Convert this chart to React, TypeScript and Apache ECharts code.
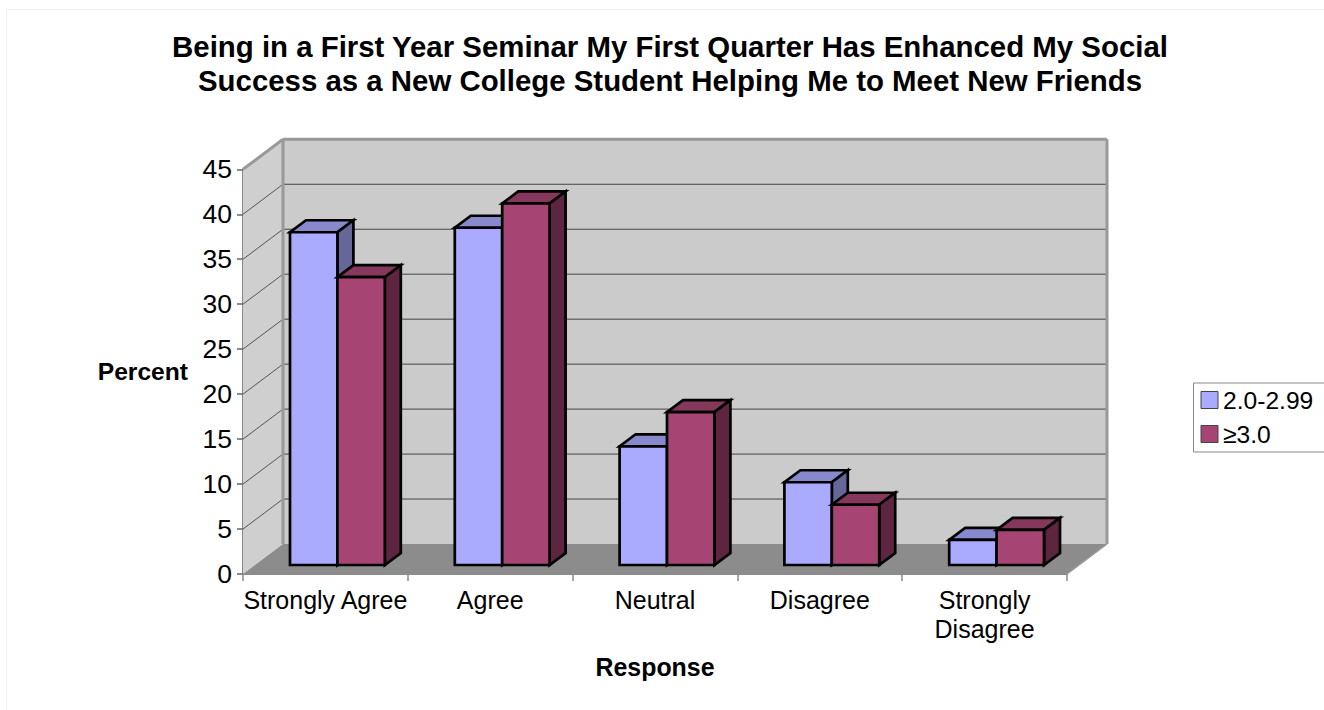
import React, { useEffect, useRef } from "react";
import * as echarts from "echarts";

const categories = ["Strongly Agree", "Agree", "Neutral", "Disagree", "Strongly\nDisagree"];
const seriesNames = ["2.0-2.99", "≥3.0"];
const lowGpa = [37.0, 37.5, 13.2, 9.2, 2.8];
const highGpa = [32.0, 40.2, 17.0, 6.7, 3.9];
const titleLines = "Being in a First Year Seminar My First Quarter Has Enhanced My Social\nSuccess as a New College Student Helping Me to Meet New Friends";
const yTicks = [0, 5, 10, 15, 20, 25, 30, 35, 40, 45];

const FONT = "Liberation Sans";
const DX = 40, DY = -30; // wall depth
const BAR_OFF_X = 12, BAR_OFF_Y = -9; // bar front plane offset
const BAR_DX = 16, BAR_DY = -12; // bar depth
const GAP_RATIO = 35 / 164.8;

const palette = [
  { front: "#AAAAFF", top: "#8888CC", side: "#666699" },
  { front: "#A64573", top: "#85375C", side: "#5E2541" },
];

function poly(points: number[][], fill: string, stroke: string | null, lineWidth = 0) {
  return {
    type: "polygon",
    shape: { points },
    style: { fill, stroke: stroke ?? "none", lineWidth, lineJoin: "miter" },
  };
}

function line(a: number[], b: number[], stroke: string, lineWidth: number) {
  return {
    type: "line",
    shape: { x1: a[0], y1: a[1], x2: b[0], y2: b[1] },
    style: { stroke, lineWidth },
  };
}

function renderWalls(_: any, api: any) {
  const band = api.size([1, 0])[0];
  const x0 = api.coord([0, 0])[0] - band / 2;
  const x1 = x0 + band * categories.length;
  const y0 = api.coord([0, 0])[1];
  const yTop = api.coord([0, 45])[1];
  const children: any[] = [
    poly([[x0, y0], [x0 + DX, y0 + DY], [x0 + DX, yTop + DY], [x0, yTop]], "#CFCFCF", null),
    poly([[x0 + DX, y0 + DY], [x1 + DX, y0 + DY], [x1 + DX, yTop + DY], [x0 + DX, yTop + DY]], "#CBCBCB", null),
    poly([[x0, y0], [x1, y0], [x1 + DX, y0 + DY], [x0 + DX, y0 + DY]], "#8C8C8C", null),
  ];
  yTicks.slice(1, -1).forEach((t) => {
    const y = api.coord([0, t])[1];
    children.push(line([x0, y], [x0 + DX, y + DY], "#555555", 1));
    children.push(line([x0 + DX, y + DY], [x1 + DX, y + DY], "#444444", 1));
  });
  children.push(line([x0 + DX, y0 + DY], [x0 + DX, yTop + DY], "#999999", 3));
  children.push(line([x1 + DX, y0 + DY], [x1 + DX, yTop + DY], "#999999", 3));
  children.push(line([x0 + DX, yTop + DY], [x1 + DX, yTop + DY], "#999999", 3));
  children.push(line([x0, yTop], [x0 + DX, yTop + DY], "#999999", 3));
  children.push(line([x1, y0], [x1 + DX, y0 + DY], "#999999", 1.5));
  return { type: "group", children };
}

function makeBarRender(seriesIndex: number) {
  return (_: any, api: any) => {
    const cat = api.value(0);
    const val = api.value(1);
    const band = api.size([1, 0])[0];
    const w = band * (1 - 2 * GAP_RATIO) / 2;
    const c = api.coord([cat, val]);
    const b = api.coord([cat, 0]);
    const left = c[0] - w + seriesIndex * w + BAR_OFF_X;
    const right = left + w;
    const top = c[1] + BAR_OFF_Y;
    const bottom = b[1] + BAR_OFF_Y;
    const col = palette[seriesIndex];
    const edge = "#000000";
    return {
      type: "group",
      children: [
        poly([[left, top], [right, top], [right + BAR_DX, top + BAR_DY], [left + BAR_DX, top + BAR_DY]], col.top, edge, 2.7),
        poly([[right, top], [right + BAR_DX, top + BAR_DY], [right + BAR_DX, bottom + BAR_DY], [right, bottom]], col.side, edge, 2.7),
        poly([[left, top], [right, top], [right, bottom], [left, bottom]], col.front, edge, 2.7),
      ],
    };
  };
}

export default function App() {
  const ref = useRef<HTMLDivElement>(null);
  useEffect(() => {
    document.body.style.margin = "0";
    const chart = echarts.init(ref.current!, undefined, { renderer: "svg" });
    chart.setOption({
      animation: false,
      backgroundColor: "#FFFFFF",
      graphic: [
        { type: "line", silent: true, shape: { x1: 6, y1: 9.5, x2: 1324, y2: 9.5 }, style: { stroke: "#F0F0F0", lineWidth: 1 } },
        { type: "line", silent: true, shape: { x1: 6.5, y1: 9, x2: 6.5, y2: 710 }, style: { stroke: "#F0F0F0", lineWidth: 1 } },
      ],
      title: {
        text: titleLines,
        left: 665,
        top: 24,
        textAlign: "center",
        textStyle: { fontFamily: FONT, fontSize: 29.4, fontWeight: "bold", color: "#000", lineHeight: 34 },
      },
      grid: { left: 243, top: 169.3, width: 824, height: 404.7 },
      xAxis: {
        type: "category",
        data: categories,
        name: "Response",
        nameLocation: "middle",
        nameGap: 80,
        nameTextStyle: { fontFamily: FONT, fontSize: 24.9, fontWeight: "bold", color: "#000" },
        axisLine: { lineStyle: { color: "#666666", width: 1.5 } },
        axisTick: { show: true, length: 7, lineStyle: { color: "#888888", width: 1.5 } },
        axisLabel: { interval: 0, fontFamily: FONT, fontSize: 25, color: "#000", margin: 11, lineHeight: 29 },
      },
      yAxis: {
        type: "value",
        min: 0,
        max: 45,
        interval: 5,
        name: "Percent",
        nameLocation: "middle",
        nameRotate: 0,
        nameGap: 55,
        nameTextStyle: { fontFamily: FONT, fontSize: 24.6, fontWeight: "bold", color: "#000", padding: [0, 0, 2, 0] },
        axisLine: { show: true, lineStyle: { color: "#888888", width: 2 } },
        axisTick: { show: true, length: 6, lineStyle: { color: "#666666", width: 1.5 } },
        axisLabel: { fontFamily: FONT, fontSize: 26.5, color: "#000", margin: 11, padding: [0, 0, 3, 0] },
        splitLine: { show: false },
      },
      legend: {
        orient: "vertical",
        left: 1193.5,
        top: 383,
        padding: [4.5, 60, 5.5, 7],
        itemWidth: 17,
        itemHeight: 17,
        itemGap: 9,
        borderColor: "#888888",
        borderWidth: 1,
        backgroundColor: "#FFFFFF",
        selectedMode: false,
        icon: "rect",
        textStyle: { fontFamily: FONT, fontSize: 24.6, color: "#000", padding: [0, 0, 0, 0] },
        data: seriesNames.map((name, i) => ({
          name,
          itemStyle: { color: palette[i].front, borderColor: "#444444", borderWidth: 1 },
        })),
      },
      series: [
        { type: "custom", name: "walls", silent: true, z: 1, clip: false, data: [[0, 0]], renderItem: renderWalls },
        {
          type: "custom",
          name: seriesNames[0],
          z: 2,
          clip: false,
          itemStyle: { color: palette[0].front },
          data: lowGpa.map((v, i) => [i, v]),
          renderItem: makeBarRender(0),
        },
        {
          type: "custom",
          name: seriesNames[1],
          z: 3,
          clip: false,
          itemStyle: { color: palette[1].front },
          data: highGpa.map((v, i) => [i, v]),
          renderItem: makeBarRender(1),
        },
      ],
    });
    return () => chart.dispose();
  }, []);
  return <div ref={ref} style={{ position: "absolute", left: 0, top: 0, width: 1324, height: 710 }} />;
}
